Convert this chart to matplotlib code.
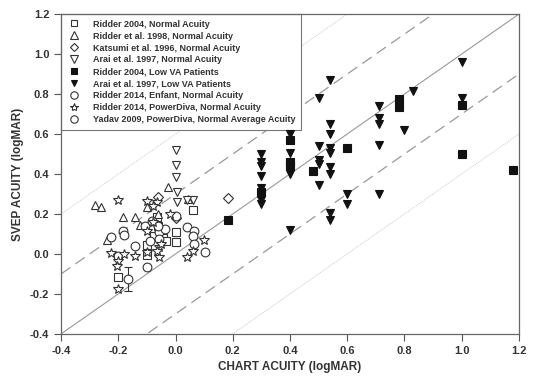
import numpy as np
import matplotlib
matplotlib.use('Agg')
import matplotlib.pyplot as plt

plt.rcParams['font.family'] = ['Liberation Sans', 'DejaVu Sans']

# open squares
r2004_norm_x = [-0.066, -0.06, 0.0, 0.0, -0.043, -0.1, -0.1, -0.2, 0.062, -0.076, -0.035]
r2004_norm_y = [0.187, 0.142, 0.11, 0.06, 0.078, 0.045, -0.005, -0.113, 0.22, 0.092, 0.067]
# open up triangles
r1998_x = [-0.281, -0.261, -0.182, -0.141, -0.1, -0.124, -0.24, -0.025, 0.045, -0.06]
r1998_y = [0.245, 0.237, 0.183, 0.183, 0.237, 0.145, 0.07, 0.337, 0.273, 0.2]
# open diamonds
katsumi_x = [-0.06, 0.0, 0.183]
katsumi_y = [0.287, 0.18, 0.28]
# open down triangles
arai_norm_x = [0.0, 0.0, 0.0, 0.005, 0.005, 0.062, 0.04]
arai_norm_y = [0.52, 0.445, 0.383, 0.31, 0.26, 0.27, 0.27]
# filled squares
r2004_low_x = [0.183, 0.3, 0.4, 0.4, 0.4, 0.48, 0.6, 0.78, 0.78, 1.0, 1.0, 1.18]
r2004_low_y = [0.17, 0.31, 0.57, 0.46, 0.44, 0.415, 0.53, 0.775, 0.737, 0.745, 0.50, 0.42]
# filled down triangles
arai_low_x = [0.3] * 8 + [0.4] * 4 + [0.5] * 5 + [0.54] * 9 + [0.6] * 2 + [0.71] * 5 + [0.8, 0.83, 1.0, 1.0]
arai_low_y = [0.50, 0.46, 0.44, 0.39, 0.33, 0.29, 0.27, 0.25,
              0.60, 0.505, 0.40, 0.12,
              0.78, 0.54, 0.47, 0.45, 0.345,
              0.87, 0.65, 0.60, 0.53, 0.505, 0.437, 0.40, 0.207, 0.17,
              0.30, 0.25,
              0.74, 0.68, 0.65, 0.545, 0.30,
              0.62, 0.815, 0.96, 0.78]
# open circles
r2014_enf_x = [-0.224, -0.182, -0.18, -0.141, -0.1, -0.059, -0.038, -0.059, 0.041, 0.065,
               0.062, 0.065, 0.102, -0.2, -0.106, -0.082, -0.088, 0.0, -0.06]
r2014_enf_y = [0.087, 0.117, 0.095, 0.038, -0.063, 0.108, 0.125, 0.075, 0.137, 0.117,
               0.092, 0.05, 0.008, -0.008, 0.142, 0.167, 0.067, 0.19, 0.14]
# stars
r2014_pd_x = [-0.2, -0.1, -0.065, -0.1, -0.079, -0.224, -0.18, -0.2, -0.206, -0.141, -0.059,
              -0.059, -0.018, 0.062, 0.1, 0.041, -0.2, -0.1, -0.065, -0.08, -0.05]
r2014_pd_y = [0.27, 0.263, 0.258, 0.117, 0.158, 0.003, 0.0, -0.033, -0.058, -0.008, 0.033,
              -0.017, 0.2, 0.017, 0.07, -0.017, -0.175, 0.008, 0.017, 0.24, 0.05]
# yadav average with error bar
yadav_x = [-0.165]
yadav_y = [-0.125]
yadav_err = [0.06]

offsets = [0.0, 0.3, -0.3, 0.6, -0.6]

fig = plt.figure(figsize=(5.36, 3.82), dpi=100)
ax = fig.add_axes([0.114, 0.126, 0.854, 0.837])

edge = '#333333'
lx = np.array([-0.4, 1.2])
ax.plot(lx, lx + offsets[0], color='#999999', lw=0.8, zorder=1)
ax.plot(lx, lx + offsets[1], color='#999999', lw=0.9, ls=(0, (9, 5)), zorder=1)
ax.plot(lx, lx + offsets[2], color='#999999', lw=0.9, ls=(0, (9, 5)), zorder=1)
ax.plot(lx, lx + offsets[3], color='#cccccc', lw=0.7, ls=(0, (1, 1)), zorder=1)
ax.plot(lx, lx + offsets[4], color='#cccccc', lw=0.7, ls=(0, (1, 1)), zorder=1)

kw_open = dict(ls='none', mfc='white', mec=edge, mew=0.8, zorder=3)
kw_fill = dict(ls='none', mfc='#111111', mec='#111111', mew=0.8, zorder=3)

h1, = ax.plot(r2004_norm_x, r2004_norm_y, 's', ms=5.8, **kw_open)
h2, = ax.plot(r1998_x, r1998_y, '^', ms=6.2, **kw_open)
h3, = ax.plot(katsumi_x, katsumi_y, 'D', ms=5.2, **kw_open)
h4, = ax.plot(arai_norm_x, arai_norm_y, 'v', ms=6.2, **kw_open)
h5, = ax.plot(r2004_low_x, r2004_low_y, 's', ms=5.3, **kw_fill)
h6, = ax.plot(arai_low_x, arai_low_y, 'v', ms=5.8, **kw_fill)
h7, = ax.plot(r2014_enf_x, r2014_enf_y, 'o', ms=6.3, **kw_open)
h8, = ax.plot(r2014_pd_x, r2014_pd_y, '*', ms=7, **kw_open)
ax.errorbar(yadav_x, yadav_y, yerr=yadav_err, fmt='none', ecolor=edge, elinewidth=0.8,
            capsize=3, capthick=0.8, zorder=2)
h9, = ax.plot(yadav_x, yadav_y, 'o', ms=6.3, **kw_open)

labels = ['Ridder 2004, Normal Acuity',
          'Ridder et al. 1998, Normal Acuity',
          'Katsumi et al. 1996, Normal Acuity',
          'Arai et al. 1997, Normal Acuity',
          'Ridder 2004, Low VA Patients',
          'Arai et al. 1997, Low VA Patients',
          'Ridder 2014, Enfant, Normal Acuity',
          'Ridder 2014, PowerDiva, Normal Acuity',
          'Yadav 2009, PowerDiva, Normal Average Acuity']
leg = ax.legend([h1, h2, h3, h4, h5, h6, h7, h8, h9], labels, loc='upper left',
                borderaxespad=0, fancybox=False, framealpha=1, edgecolor='#777777',
                prop={'weight': 'bold', 'size': 6.5}, labelspacing=0.33,
                handletextpad=1.3, borderpad=0.6, handlelength=1.6, markerscale=0.85)
leg.get_frame().set_linewidth(0.8)
for t in leg.get_texts():
    t.set_color('#333333')
leg.set_zorder(2)

ax.set_xlim(-0.4, 1.2)
ax.set_ylim(-0.4, 1.2)
ax.set_xticks(np.arange(-0.4, 1.21, 0.2))
ax.set_yticks(np.arange(-0.4, 1.21, 0.2))
ax.xaxis.set_major_formatter(matplotlib.ticker.FormatStrFormatter('%.1f'))
ax.yaxis.set_major_formatter(matplotlib.ticker.FormatStrFormatter('%.1f'))
ax.tick_params(direction='out', length=5, width=0.8, colors='#555555', labelsize=8,
               labelcolor='#333333')
for lab in ax.get_xticklabels() + ax.get_yticklabels():
    lab.set_fontweight('bold')
for s in ax.spines.values():
    s.set_color('#666666')
    s.set_linewidth(0.9)

ax.set_xlabel('CHART ACUITY (logMAR)', fontsize=8.5, fontweight='bold', color='#333333')
ax.set_ylabel('SVEP ACUITY (logMAR)', fontsize=8.5, fontweight='bold', color='#333333')

fig.savefig('out.png', dpi=100)
